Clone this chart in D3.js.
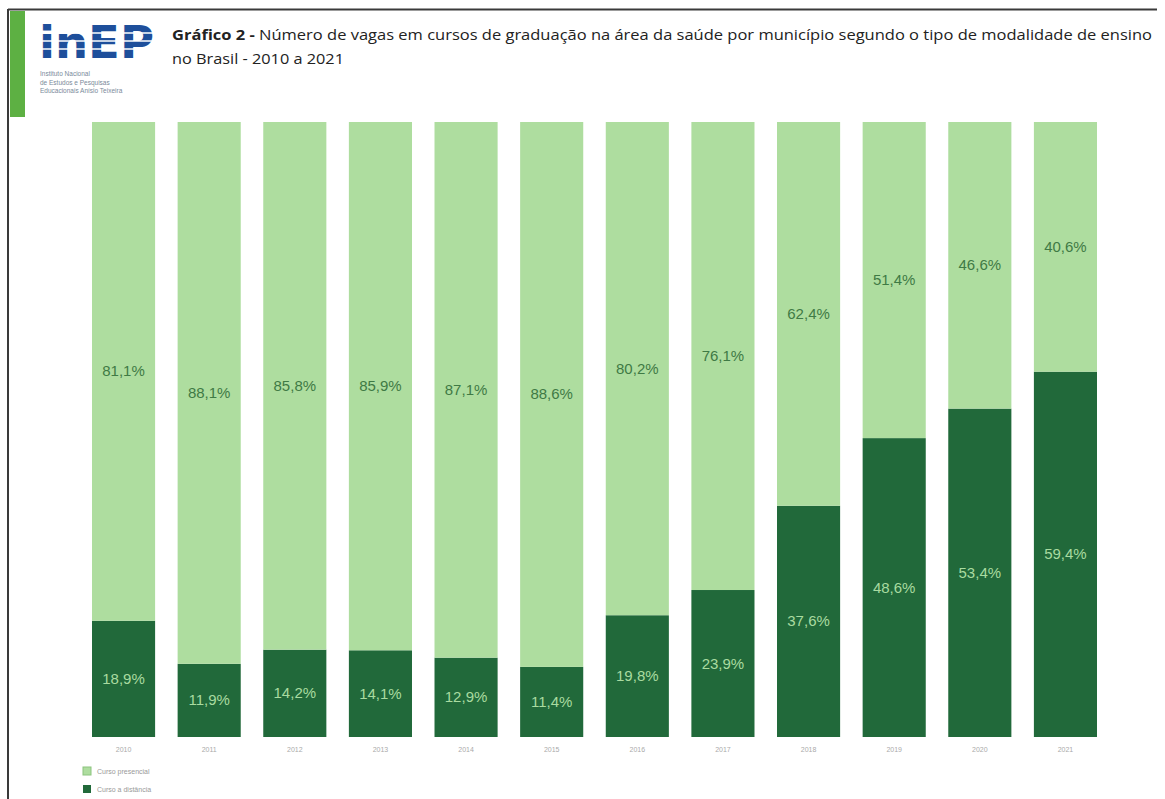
<!DOCTYPE html>
<html>
<head>
<meta charset="utf-8">
<script src="https://cdn.jsdelivr.net/npm/d3@7"></script>
<style>
  html, body { margin: 0; padding: 0; background: #fff; }
  svg { display: block; }
</style>
</head>
<body>
<svg id="chart" width="1165" height="799"></svg>
<script>
// Vagas em cursos de graduação na área da saúde, por modalidade (%)
const years = ["2010", "2011", "2012", "2013", "2014", "2015", "2016", "2017", "2018", "2019", "2020", "2021"];
const presencial = [81.1, 88.1, 85.8, 85.9, 87.1, 88.6, 80.2, 76.1, 62.4, 51.4, 46.6, 40.6];
const distancia  = [18.9, 11.9, 14.2, 14.1, 12.9, 11.4, 19.8, 23.9, 37.6, 48.6, 53.4, 59.4];
const seriesNames = ["Curso presencial", "Curso a distância"];

const colors = { light: "#aedd9f", dark: "#21693a", lightText: "#3f7a45", darkText: "#a9dba0" };

const svg = d3.select("#chart");

// Frame: top rule and left rule
svg.append("line").attr("x1", 8).attr("x2", 1157).attr("y1", 9.5).attr("y2", 9.5)
  .attr("stroke", "#3a3a3a").attr("stroke-width", 2);
svg.append("line").attr("x1", 8).attr("x2", 8).attr("y1", 9).attr("y2", 799)
  .attr("stroke", "#3a3a3a").attr("stroke-width", 2);
svg.append("rect").attr("x", 10).attr("y", 11).attr("width", 15).attr("height", 106)
  .attr("fill", "#5db043");

// Logo
const logo = svg.append("g");
logo.append("text").attr("x", 39).attr("y", 58)
  .attr("font-family", "DejaVu Sans").attr("font-weight", "bold").attr("font-size", 44)
  .attr("textLength", 115).attr("lengthAdjust", "spacingAndGlyphs")
  .attr("fill", "#1e4f9b").text("inEP");
[33, 41, 49].forEach(y => {
  logo.append("line").attr("x1", 36).attr("x2", 158).attr("y1", y).attr("y2", y)
    .attr("stroke", "#fff").attr("stroke-width", 1.6);
});
["Instituto Nacional", "de Estudos e Pesquisas", "Educacionais Anísio Teixeira"].forEach((t, i) => {
  logo.append("text").attr("x", 40).attr("y", 76 + i * 8.5)
    .attr("font-family", "Liberation Sans").attr("font-size", 6.5)
    .attr("fill", "#7a8a9a").text(t);
});

// Title
const title = svg.append("g").attr("font-family", "Open Sans, Liberation Sans").attr("fill", "#222");
const t1 = title.append("text").attr("x", 172).attr("y", 40).attr("font-size", 14)
  .attr("textLength", 980).attr("lengthAdjust", "spacingAndGlyphs");
t1.append("tspan").attr("font-weight", "bold").text("Gráfico 2 - ");
t1.append("tspan").text("Número de vagas em cursos de graduação na área da saúde por município segundo o tipo de modalidade de ensino");
title.append("text").attr("x", 172).attr("y", 64).attr("font-size", 14)
  .attr("textLength", 172).attr("lengthAdjust", "spacingAndGlyphs")
  .text("no Brasil - 2010 a 2021");

// Scales
const x = d3.scaleBand().domain(years).range([92, 1097]).paddingInner(0.263).paddingOuter(0);
const y = d3.scaleLinear().domain([0, 100]).range([737, 122]);

const rows = years.map((yr, i) => ({ year: yr, dist: distancia[i], pres: presencial[i] }));

const bars = svg.append("g");
// Curso a distância (bottom)
bars.selectAll("rect.dist").data(rows).join("rect").attr("class", "dist")
  .attr("x", d => x(d.year)).attr("width", x.bandwidth())
  .attr("y", d => y(d.dist)).attr("height", d => y(0) - y(d.dist))
  .attr("fill", colors.dark);
// Curso presencial (stacked on top)
bars.selectAll("rect.pres").data(rows).join("rect").attr("class", "pres")
  .attr("x", d => x(d.year)).attr("width", x.bandwidth())
  .attr("y", d => y(d.dist + d.pres)).attr("height", d => y(d.dist) - y(d.dist + d.pres))
  .attr("fill", colors.light);

const fmt = v => v.toFixed(1).replace(".", ",") + "%";
const labels = svg.append("g").attr("font-family", "Liberation Sans Narrow, Liberation Sans")
  .attr("font-size", 15).attr("text-anchor", "middle");
labels.selectAll("text.pres").data(rows).join("text").attr("class", "pres")
  .attr("x", d => x(d.year) + x.bandwidth() / 2)
  .attr("y", d => (y(d.dist) + y(d.dist + d.pres)) / 2 + 5)
  .attr("fill", colors.lightText).text(d => fmt(d.pres));
labels.selectAll("text.dist").data(rows).join("text").attr("class", "dist")
  .attr("x", d => x(d.year) + x.bandwidth() / 2)
  .attr("y", d => (y(0) + y(d.dist)) / 2 + 5)
  .attr("fill", colors.darkText).text(d => fmt(d.dist));

// Year axis
const xAxis = svg.append("g").attr("transform", "translate(0,737)")
  .call(d3.axisBottom(x).tickSize(0).tickPadding(10));
xAxis.select(".domain").remove();
xAxis.selectAll("text").attr("font-family", "Liberation Sans").attr("font-size", 7).attr("fill", "#aaa");

// Legend
const legend = svg.append("g").attr("transform", "translate(83,767)");
const legendColors = [colors.light, colors.dark];
seriesNames.forEach((name, i) => {
  const g = legend.append("g").attr("transform", `translate(0,${i * 18})`);
  g.append("rect").attr("width", 8).attr("height", 8).attr("fill", legendColors[i])
    .attr("stroke", i === 0 ? "#8cc47e" : "none");
  g.append("text").attr("x", 14).attr("y", 7).attr("font-family", "Liberation Sans")
    .attr("font-size", 7).attr("fill", "#999").text(name);
});
</script>
</body>
</html>
